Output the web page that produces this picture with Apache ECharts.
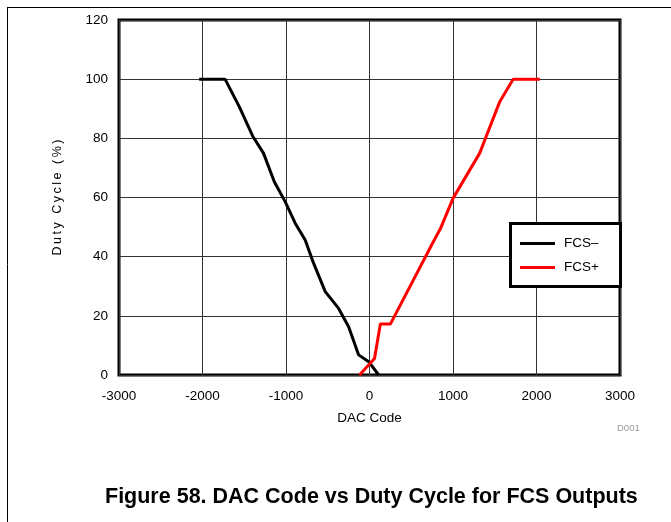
<!DOCTYPE html>
<html>
<head>
<meta charset="utf-8">
<script src="https://cdn.jsdelivr.net/npm/echarts@6/dist/echarts.min.js"></script>
<style>
  html, body { margin: 0; padding: 0; background: #fff; }
  #chart { width: 671px; height: 522px; }
</style>
</head>
<body>
<div id="chart"></div>
<script>
// DAC code (x) and duty cycle in percent (y) for each FCS output
const fcsMinusCode = [-2040, -1730, -1560, -1400, -1270, -1140, -1010, -890, -770, -670, -530, -370, -250, -130, -10, 110];
const fcsMinusDuty = [100, 100, 90.7, 80.8, 75, 65.3, 58.6, 51.3, 45.6, 37.8, 28.2, 22.5, 16.3, 6.8, 4.5, 0];
const fcsPlusCode = [-120, 60, 130, 250, 750, 850, 1000, 1320, 1560, 1720, 2040];
const fcsPlusDuty = [0, 5.6, 17.2, 17.2, 44.3, 49.5, 59.7, 75, 92.4, 100, 100];

const seriesNames = ['FCS\u2013', 'FCS+'];
const xTicks = { min: -3000, max: 3000, step: 1000 };
const yTicks = { min: 0, max: 120, step: 20 };

const pairs = (xs, ys) => xs.map((x, i) => [x, ys[i]]);
const FONT = 'Liberation Sans, Arial, sans-serif';

const chart = echarts.init(document.getElementById('chart'), null, { renderer: 'canvas' });

chart.setOption({
  animation: false,
  backgroundColor: '#fff',
  grid: {
    left: 119, right: 51, top: 20, bottom: 147,
    show: true, borderColor: '#000', borderWidth: 3, backgroundColor: 'transparent'
  },
  xAxis: {
    type: 'value',
    min: xTicks.min, max: xTicks.max, interval: xTicks.step,
    name: 'DAC Code',
    nameLocation: 'middle',
    nameGap: 36,
    nameTextStyle: { fontFamily: FONT, fontSize: 13.5, color: '#000', verticalAlign: 'top' },
    axisLine: { show: false },
    axisTick: { show: false },
    axisLabel: { fontFamily: FONT, fontSize: 13.5, color: '#000', margin: 14, formatter: v => String(v) },
    splitLine: { show: true, lineStyle: { color: '#333', width: 1 } }
  },
  yAxis: {
    type: 'value',
    min: yTicks.min, max: yTicks.max, interval: yTicks.step,
    name: 'D\u2009u\u2009t\u2009y\u2009 \u2009C\u2009y\u2009c\u2009l\u2009e\u2009 \u2009(\u2009%\u2009)',
    nameLocation: 'middle',
    nameGap: 55,
    nameRotate: 90,
    nameTextStyle: { fontFamily: FONT, fontSize: 12.5, color: '#000' },
    axisLine: { show: false },
    axisTick: { show: false },
    axisLabel: { fontFamily: FONT, fontSize: 13.5, color: '#000', margin: 11, formatter: v => String(v) },
    splitLine: { show: true, lineStyle: { color: '#333', width: 1 } }
  },
  legend: {
    orient: 'vertical',
    left: 520, top: 236,
    itemWidth: 35, itemHeight: 3,
    itemGap: 9,
    itemTextGap: 9,
    icon: 'rect',
    padding: 0,
    z: 20,
    textStyle: { fontFamily: FONT, fontSize: 13.5, color: '#000', lineHeight: 15, padding: [0, 0, 0, 4] },
    data: seriesNames
  },
  graphic: [
    // outer frame lines
    { type: 'line', shape: { x1: 7, y1: 7.5, x2: 671, y2: 7.5 }, style: { stroke: '#000', lineWidth: 1 }, silent: true },
    { type: 'line', shape: { x1: 7.5, y1: 7, x2: 7.5, y2: 522 }, style: { stroke: '#000', lineWidth: 1 }, silent: true },
    // legend frame
    { type: 'rect', shape: { x: 510.5, y: 223.5, width: 110, height: 63 }, style: { fill: '#fff', stroke: '#000', lineWidth: 3 }, z: 4, silent: true },
    { type: 'text', left: 617, top: 423, style: { text: 'D001', font: '9.5px ' + FONT, fill: '#999' }, silent: true },
    { type: 'text', left: 105, top: 486, style: { text: 'Figure 58. DAC Code vs Duty Cycle for FCS Outputs', font: 'bold 21.5px ' + FONT, fill: '#000' }, silent: true }
  ],
  series: [
    {
      name: seriesNames[0], type: 'line', data: pairs(fcsMinusCode, fcsMinusDuty),
      symbol: 'none', lineStyle: { color: '#000', width: 3 }, itemStyle: { color: '#000' }, z: 3
    },
    {
      name: seriesNames[1], type: 'line', data: pairs(fcsPlusCode, fcsPlusDuty),
      symbol: 'none', lineStyle: { color: '#ff0000', width: 3 }, itemStyle: { color: '#ff0000' }, z: 3
    }
  ]
});
</script>
</body>
</html>
